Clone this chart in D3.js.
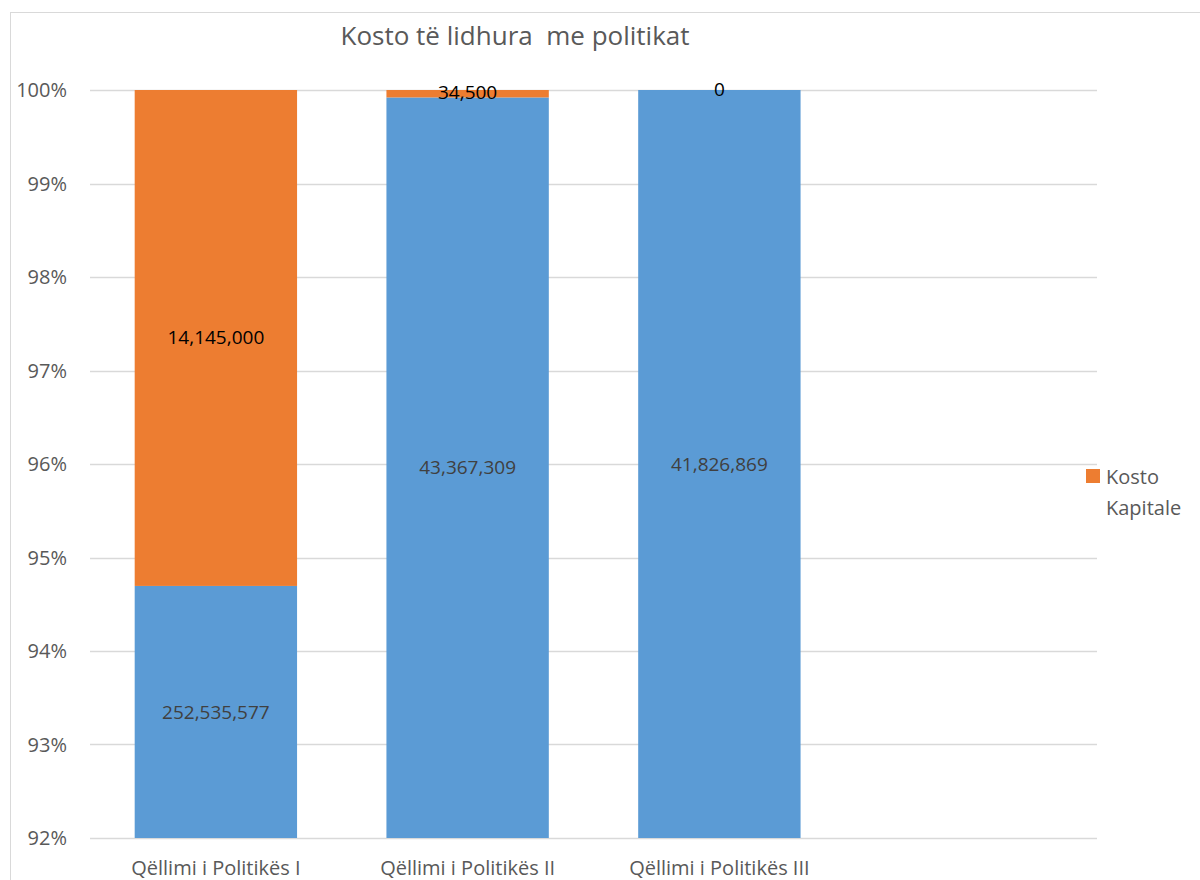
<!DOCTYPE html>
<html>
<head>
<meta charset="utf-8">
<script src="https://cdn.jsdelivr.net/npm/d3@7"></script>
<style>
  body { margin: 0; background: #fff; }
  svg text { font-family: "Open Sans", "Noto Sans", sans-serif; }
</style>
</head>
<body>
<div id="chart"></div>
<script>
// Data
const categories = ['Qëllimi i Politikës I', 'Qëllimi i Politikës II', 'Qëllimi i Politikës III', ''];
const operative = [252535577, 43367309, 41826869, null];
const kapitale = [14145000, 34500, 0, null];
const yTicks = [0.92, 0.93, 0.94, 0.95, 0.96, 0.97, 0.98, 0.99, 1.00];
const title = 'Kosto të lidhura  me politikat';
const legendLabel = ['Kosto', 'Kapitale'];

const width = 1200, height = 880;
const margin = { top: 90, left: 90, right: 103, bottom: 42 };

const svg = d3.select('#chart').append('svg')
  .attr('width', width)
  .attr('height', height);

// chart frame
svg.append('rect')
  .attr('x', 10.5).attr('y', 12.5)
  .attr('width', 1300).attr('height', 1000)
  .attr('fill', 'none')
  .attr('stroke', '#d9d9d9');

const x = d3.scaleBand()
  .domain(d3.range(categories.length))
  .range([margin.left, width - margin.right])
  .paddingInner(0.355)
  .paddingOuter(0.1775);

const y = d3.scaleLinear()
  .domain([0.92, 1.0])
  .range([height - margin.bottom, margin.top]);

// gridlines
svg.append('g')
  .selectAll('line')
  .data(yTicks)
  .join('line')
  .attr('x1', margin.left).attr('x2', width - margin.right)
  .attr('y1', d => Math.round(y(d)) + 0.5).attr('y2', d => Math.round(y(d)) + 0.5)
  .attr('stroke', '#d9d9d9')
  .attr('stroke-width', 1.5);

// y tick labels
svg.append('g')
  .selectAll('text')
  .data(yTicks)
  .join('text')
  .attr('x', 67)
  .attr('y', d => y(d))
  .attr('dy', '0.35em')
  .attr('text-anchor', 'end')
  .attr('font-size', 20)
  .attr('fill', '#595959')
  .text(d => d3.format('.0%')(d));

// clip to plot area
svg.append('defs').append('clipPath')
  .attr('id', 'plot-clip')
  .append('rect')
  .attr('x', margin.left).attr('y', margin.top)
  .attr('width', width - margin.left - margin.right)
  .attr('height', height - margin.top - margin.bottom);

const rows = categories.map((c, i) => {
  const total = (operative[i] || 0) + (kapitale[i] || 0);
  return { i, op: operative[i], kap: kapitale[i], total,
    opShare: total ? operative[i] / total : 0 };
}).filter(d => d.total > 0);

const bars = svg.append('g').attr('clip-path', 'url(#plot-clip)');

bars.selectAll('.op')
  .data(rows)
  .join('rect')
  .attr('class', 'op')
  .attr('x', d => x(d.i))
  .attr('width', x.bandwidth())
  .attr('y', d => y(d.opShare))
  .attr('height', d => y(0) - y(d.opShare))
  .attr('fill', '#5b9bd5');

bars.selectAll('.kap')
  .data(rows)
  .join('rect')
  .attr('class', 'kap')
  .attr('x', d => x(d.i))
  .attr('width', x.bandwidth())
  .attr('y', y(1))
  .attr('height', d => y(d.opShare) - y(1))
  .attr('fill', '#ed7d31');

const fmt = d3.format(',');

// labels: operative (centre of visible part)
svg.append('g')
  .selectAll('text')
  .data(rows)
  .join('text')
  .attr('x', d => x(d.i) + x.bandwidth() / 2)
  .attr('y', d => (Math.min(y(d.opShare), y(0)) + y(0.92)) / 2)
  .attr('dy', '0.35em')
  .attr('text-anchor', 'middle')
  .attr('font-size', 19)
  .attr('fill', '#404040')
  .text(d => fmt(d.op));

// labels: kapitale
svg.append('g')
  .selectAll('text')
  .data(rows)
  .join('text')
  .attr('x', d => x(d.i) + x.bandwidth() / 2)
  .attr('y', d => (y(1) + y(d.opShare)) / 2)
  .attr('dy', '0.3em')
  .attr('text-anchor', 'middle')
  .attr('font-size', 19)
  .attr('fill', '#000')
  .text(d => fmt(d.kap));

// x labels
svg.append('g')
  .selectAll('text')
  .data(categories)
  .join('text')
  .attr('x', (d, i) => x(i) + x.bandwidth() / 2)
  .attr('y', 868)
  .attr('dy', '0.35em')
  .attr('text-anchor', 'middle')
  .attr('font-size', 20)
  .attr('fill', '#595959')
  .text(d => d);

// title
svg.append('text')
  .attr('x', 515)
  .attr('y', 36)
  .attr('dy', '0.35em')
  .attr('text-anchor', 'middle')
  .attr('font-size', 26)
  .attr('fill', '#595959')
  .style('white-space', 'pre')
  .text(title);

// legend
const legend = svg.append('g');
legend.append('rect')
  .attr('x', 1086).attr('y', 469)
  .attr('width', 14).attr('height', 14)
  .attr('fill', '#ed7d31');
legend.selectAll('text')
  .data(legendLabel)
  .join('text')
  .attr('x', 1106)
  .attr('y', (d, i) => 477 + i * 31)
  .attr('dy', '0.35em')
  .attr('font-size', 20)
  .attr('fill', '#595959')
  .text(d => d);
</script>
</body>
</html>
